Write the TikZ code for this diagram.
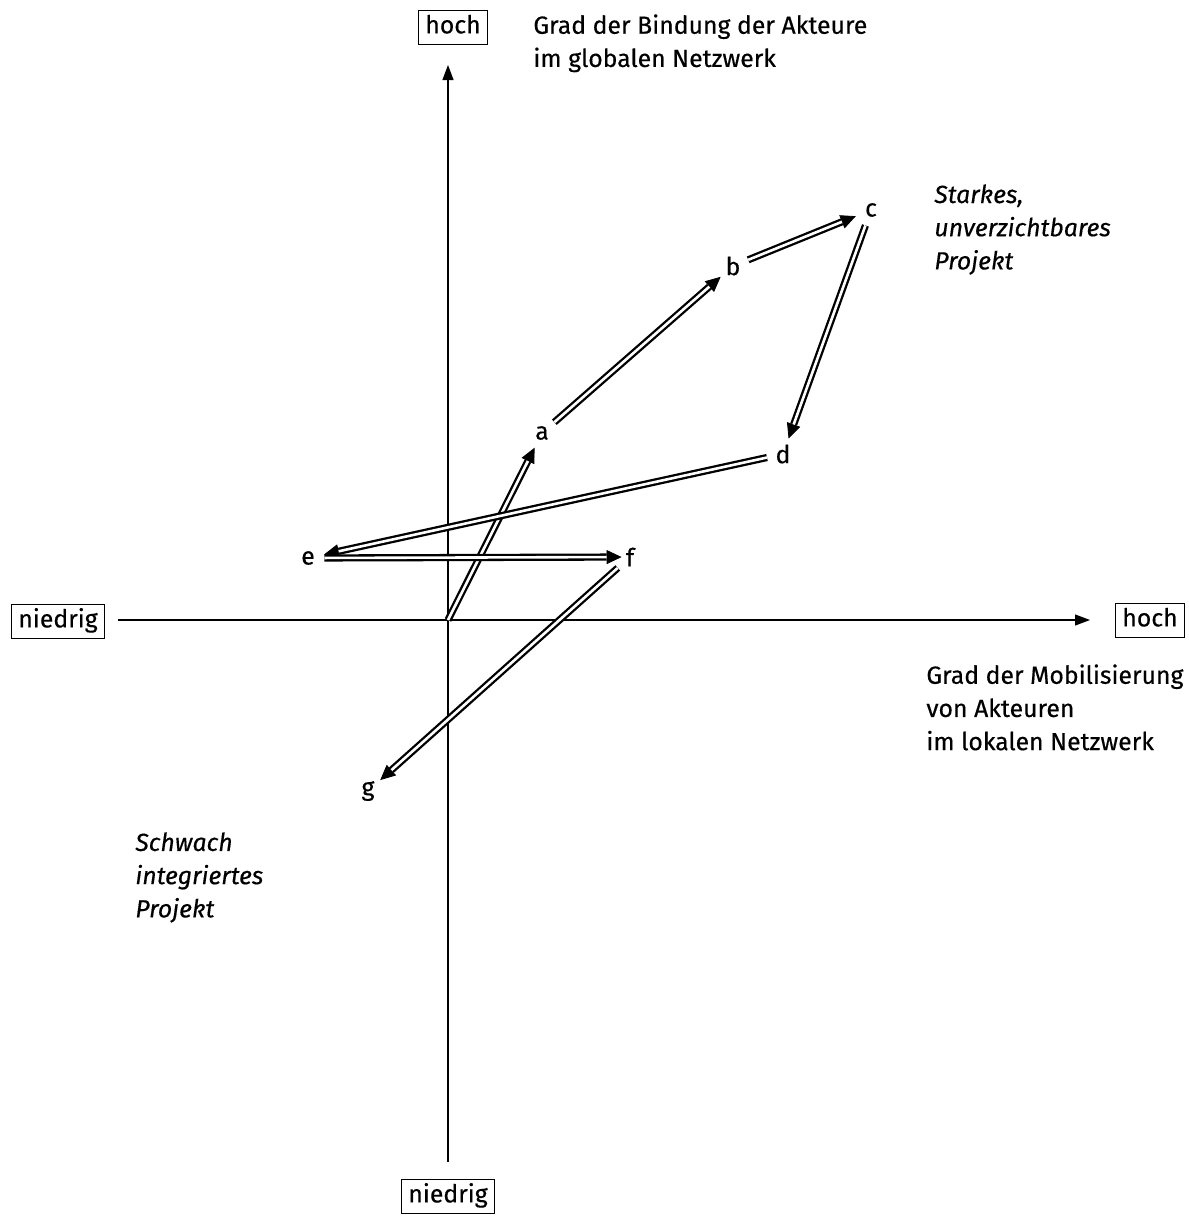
\documentclass[tikz,border=0pt]{standalone}
\usepackage{fontspec}
\setmainfont{Fira Sans}[FakeBold=0.4]
\usetikzlibrary{arrows.meta}
\begin{document}
\begin{tikzpicture}[x=0.5pt,y=-0.5pt,
  txt/.style={font=\fontsize{12.4}{16.6}\selectfont, inner sep=0pt, anchor=north west, align=left},
  itxt/.style={txt, font=\fontsize{12.4}{16.6}\selectfont\itshape},
  boxed/.style={draw, line width=0.5pt, font=\fontsize{12.4}{13}\selectfont, text height=9pt, text depth=2.6pt, inner xsep=3.5pt, inner ysep=2.7pt},
  axis/.style={line width=0.6pt, -{Triangle[length=7.5pt,width=5.5pt]}},
  pt/.style={circle, minimum size=16pt, inner sep=0pt, font=\fontsize{12.4}{13}\selectfont},
  dbl/.style={double, double distance=1.3pt, line width=1.15pt, shorten >=7.5pt},
  tipl/.style={line width=0.4pt, -{Triangle[length=7.5pt,width=7pt]}}
]
\useasboundingbox (0,0) rectangle (1189,1216);
% axes
\node[boxed] (yhi) at (453,27) {hoch};
\node[boxed] (ylo) at (448,1196) {niedrig};
\node[boxed] (xlo) at (58,621) {niedrig};
\node[boxed] (xhi) at (1150,620) {hoch};
\coordinate (o) at (448,620);
\coordinate (ytop) at (448,65);
\coordinate (ybot) at (448,1162);
\coordinate (xl) at (118,620);
\coordinate (xr) at (1090,620);
\draw[axis] (ybot) -- (ytop);
\draw[axis] (xl) -- (xr);
% texts
\node[txt] (t1) at (533,14) {Grad der Bindung der Akteure\\im globalen Netzwerk};
\node[txt] (t2) at (926,664) {Grad der Mobilisierung\\von Akteuren\\im lokalen Netzwerk};
\node[itxt] (t3) at (934,184) {Starkes,\\unverzichtbares\\Projekt};
\node[itxt] (t4) at (135,832) {Schwach\\integriertes\\Projekt};
% points
\node[pt] (a) at (542,433) {a};
\node[pt] (b) at (733,266) {b};
\node[pt] (c) at (871,210) {c};
\node[pt] (d) at (783,454) {d};
\node[pt] (e) at (308,558) {e};
\node[pt] (f) at (630,557) {f};
\node[pt] (g) at (368,791) {g};
% arrows
\draw[tipl] (o) -- (a); \draw[dbl] (o) -- (a);
\draw[tipl] (a) -- (b); \draw[dbl] (a) -- (b);
\draw[tipl] (b) -- (c); \draw[dbl] (b) -- (c);
\draw[tipl] (c) -- (d); \draw[dbl] (c) -- (d);
\draw[tipl] (d) -- (e); \draw[dbl] (d) -- (e);
\draw[tipl, shorten >=-4pt] (e) -- (f); \draw[dbl, shorten >=3.5pt] (e) -- (f);
\draw[tipl] (f) -- (g); \draw[dbl] (f) -- (g);
\end{tikzpicture}
\end{document}
